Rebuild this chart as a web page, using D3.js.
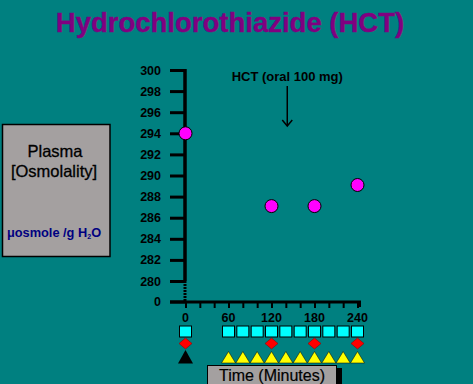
<!DOCTYPE html>
<html><head><meta charset="utf-8">
<script src="https://cdn.jsdelivr.net/npm/d3@7"></script>
<style>html,body{margin:0;padding:0;background:#008080;overflow:hidden}</style>
</head><body>
<script>
// ---- data ----
const times = [0, 120, 180, 240];
const osmolality = [294.0, 287.1, 287.1, 289.1];
const yTicks = [280, 282, 284, 286, 288, 290, 292, 294, 296, 298, 300];
const xTicks = [0, 20, 40, 60, 80, 100, 120, 140, 160, 180, 200, 220, 240];
const xLabels = [0, 60, 120, 180, 240];
const squareTimes = [0, 60, 80, 100, 120, 140, 160, 180, 200, 220, 240];
const diamondTimes = [0, 120, 180, 240];
const blackTriTimes = [0];
const yellowTriTimes = [60, 80, 100, 120, 140, 160, 180, 200, 220, 240];
const title = "Hydrochlorothiazide (HCT)";
const annotation = "HCT (oral 100 mg)";
const doseTime = 142;

const W = 473, H = 384;
const svg = d3.select("body").append("svg").attr("width", W).attr("height", H)
  .style("font-family", "'Liberation Sans', Arial, sans-serif");
svg.append("rect").attr("width", W).attr("height", H).attr("fill", "#008080");

const x = d3.scaleLinear().domain([0, 240]).range([185.5, 357.5]);
const y = d3.scaleLinear().domain([280, 300]).range([281, 70]);
const yZero = 302;

// title
svg.append("text").attr("x", 230).attr("y", 32).attr("text-anchor", "middle")
  .attr("font-size", 27.5).attr("font-weight", "bold").attr("fill", "#800080")
  .attr("stroke", "#800080").attr("stroke-width", 0.4).text(title);

// left label box
svg.append("rect").attr("x", 2.5).attr("y", 124.5).attr("width", 107.5).attr("height", 132)
  .attr("fill", "#a4a0a0").attr("stroke", "#000").attr("stroke-width", 1.5);
svg.append("text").attr("x", 55).attr("y", 157).attr("text-anchor", "middle").attr("font-size", 16.5)
  .attr("stroke", "#000").attr("stroke-width", 0.3).text("Plasma");
svg.append("text").attr("x", 54).attr("y", 177).attr("text-anchor", "middle").attr("font-size", 16.5)
  .attr("stroke", "#000").attr("stroke-width", 0.3).text("[Osmolality]");
const u = svg.append("text").attr("x", 54).attr("y", 237).attr("text-anchor", "middle")
  .attr("font-size", 12.8).attr("font-weight", "bold").attr("fill", "#000080");
u.append("tspan").text("μosmole /g H");
u.append("tspan").attr("font-size", 7).attr("dy", 2).text("2");
u.append("tspan").attr("dy", -2).text("O");

// y axis
const yAxis = svg.append("g").attr("transform", "translate(185,0)")
  .call(d3.axisLeft(y).tickValues(yTicks).tickSize(15).tickPadding(9).tickFormat(d3.format("d")));
yAxis.select(".domain").remove();
yAxis.selectAll(".tick line").attr("stroke", "#000").attr("stroke-width", 3);
yAxis.selectAll(".tick text").attr("font-size", 12.5).attr("font-weight", "bold")
  .attr("fill", "#000").attr("font-family", "'Liberation Sans', Arial, sans-serif");
svg.append("line").attr("x1", 185).attr("x2", 185).attr("y1", y(300) - 1).attr("y2", y(280))
  .attr("stroke", "#000").attr("stroke-width", 3.5);
svg.append("line").attr("x1", 185).attr("x2", 185).attr("y1", y(280)).attr("y2", yZero)
  .attr("stroke", "#000").attr("stroke-width", 3).attr("stroke-dasharray", "2,1");
// zero label and tick
svg.append("line").attr("x1", 170).attr("x2", 185).attr("y1", yZero).attr("y2", yZero)
  .attr("stroke", "#000").attr("stroke-width", 3);
svg.append("text").attr("x", 161).attr("y", yZero + 4).attr("text-anchor", "end")
  .attr("font-size", 12.5).attr("font-weight", "bold").text("0");

// x axis
const xAxis = svg.append("g").attr("transform", `translate(0,${yZero})`)
  .call(d3.axisBottom(x).tickValues(xTicks).tickSize(6).tickFormat(""));
xAxis.select(".domain").remove();
xAxis.selectAll(".tick line").attr("stroke", "#000").attr("stroke-width", 2);
svg.append("line").attr("x1", 170).attr("x2", 361).attr("y1", yZero).attr("y2", yZero)
  .attr("stroke", "#000").attr("stroke-width", 3);
svg.append("line").attr("x1", 360).attr("x2", 360).attr("y1", yZero).attr("y2", yZero + 5)
  .attr("stroke", "#000").attr("stroke-width", 2);
svg.selectAll(".xl").data(xLabels).join("text").attr("class", "xl")
  .attr("x", d => x(d)).attr("y", 322).attr("text-anchor", "middle")
  .attr("font-size", 12.5).attr("font-weight", "bold").text(d => d);

// annotation
svg.append("text").attr("x", x(doseTime)).attr("y", 81).attr("text-anchor", "middle")
  .attr("font-size", 13).attr("font-weight", "bold").text(annotation);
svg.append("line").attr("x1", x(doseTime)).attr("x2", x(doseTime)).attr("y1", 86).attr("y2", 126)
  .attr("stroke", "#000").attr("stroke-width", 1.5);
svg.append("path").attr("d", `M${x(doseTime) - 5},120 L${x(doseTime)},126 L${x(doseTime) + 5},120`)
  .attr("fill", "none").attr("stroke", "#000").attr("stroke-width", 1.5);

// data points
svg.selectAll(".pt").data(times).join("circle").attr("class", "pt")
  .attr("cx", d => x(d)).attr("cy", (d, i) => y(osmolality[i])).attr("r", 6.5)
  .attr("fill", "#ff00ff").attr("stroke", "#000").attr("stroke-width", 1);

// timeline markers
svg.selectAll(".sq").data(squareTimes).join("rect").attr("class", "sq")
  .attr("x", d => x(d) - 6).attr("y", 326).attr("width", 12).attr("height", 11)
  .attr("fill", "#00ffff").attr("stroke", "#000").attr("stroke-width", 1);
svg.selectAll(".dm").data(diamondTimes).join("path").attr("class", "dm")
  .attr("d", d => `M${x(d)},338 L${x(d) + 6.5},343.5 L${x(d)},349 L${x(d) - 6.5},343.5 Z`)
  .attr("fill", "#ff0000").attr("stroke", "#800000").attr("stroke-width", 0.5);
svg.selectAll(".tb").data(blackTriTimes).join("path").attr("class", "tb")
  .attr("d", d => `M${x(d)},350 L${x(d) + 7.5},363.5 L${x(d) - 7.5},363.5 Z`).attr("fill", "#000");
svg.selectAll(".ty").data(yellowTriTimes).join("path").attr("class", "ty")
  .attr("d", d => `M${x(d)},351.5 L${x(d) + 7},363 L${x(d) - 7},363 Z`)
  .attr("fill", "#ffff00").attr("stroke", "#000").attr("stroke-width", 0.5);

// time label box
svg.append("rect").attr("x", 212).attr("y", 368).attr("width", 130).attr("height", 20).attr("fill", "#000");
svg.append("rect").attr("x", 207.5).attr("y", 365.5).attr("width", 129).attr("height", 22)
  .attr("fill", "#a4a0a0").attr("stroke", "#000").attr("stroke-width", 1);
svg.append("text").attr("x", 272).attr("y", 381).attr("text-anchor", "middle")
  .attr("font-size", 16).attr("stroke", "#000").attr("stroke-width", 0.2).text("Time (Minutes)");
</script>
</body></html>
